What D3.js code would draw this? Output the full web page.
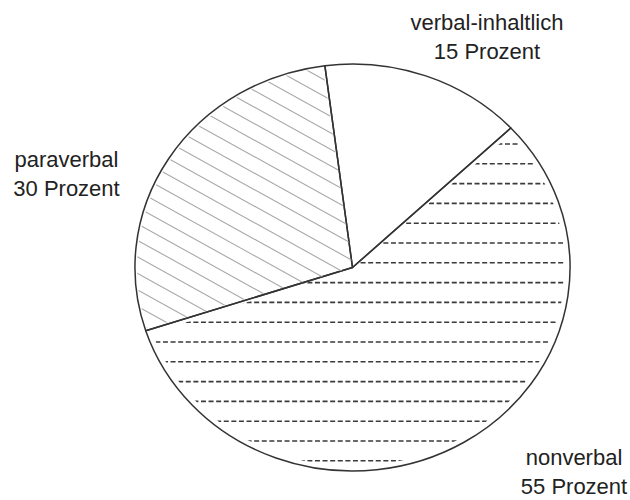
<!DOCTYPE html>
<html>
<head>
<meta charset="utf-8">
<script src="https://cdn.jsdelivr.net/npm/d3@7"></script>
<style>
  html, body { margin: 0; padding: 0; background: #fff; }
  svg { display: block; }
  text { font-family: "Liberation Sans", Arial, sans-serif; fill: #222; }
</style>
</head>
<body>
<svg id="chart" width="630" height="500"></svg>
<script>
// ---- data ----
const categories = ["verbal-inhaltlich", "nonverbal", "paraverbal"];
const values = [15, 57, 28];            // slice shares as drawn
const labelPercents = ["15", "55", "30"]; // percentages as printed
const labelUnit = "Prozent";

// ---- layout ----
const W = 630, H = 500;
const cx = 352.5, cy = 267.5, r = 203.5, sx = 1.069;
const startAngle = -7.3 * Math.PI / 180;

const svg = d3.select("#chart");
const defs = svg.append("defs");

const pie = d3.pie().sort(null).value(d => d)
  .startAngle(startAngle).endAngle(startAngle + 2 * Math.PI);
const arcs = pie(values);
const arc = d3.arc().innerRadius(0).outerRadius(r);
const arcInset = d3.arc().innerRadius(0).outerRadius(r - 5).padAngle(0.045).padRadius(r);
const arcInset2 = d3.arc().innerRadius(0).outerRadius(r - 2).padAngle(0.02).padRadius(r);

const tf = `translate(${cx},${cy}) scale(${sx},1)`;

// clip paths
defs.append("clipPath").attr("id", "clipNon")
  .append("path").attr("transform", tf).attr("d", arcInset(arcs[1]));
defs.append("clipPath").attr("id", "clipPara")
  .append("path").attr("transform", tf).attr("d", arcInset2(arcs[2]));

// slice fills
const g = svg.append("g").attr("transform", tf);
g.selectAll("path.fill").data(arcs).join("path")
  .attr("class", "fill").attr("d", arc).attr("fill", "#fff");

// nonverbal: horizontal dashed lines
const yTop = 144, yStep = 19.8;
const dashYs = d3.range(yTop, cy + r + 1, yStep);
svg.append("g").attr("clip-path", "url(#clipNon)")
  .selectAll("line").data(dashYs).join("line")
  .attr("x1", cx - r * sx - 10).attr("x2", cx + r * sx + 10)
  .attr("y1", d => d).attr("y2", d => d)
  .attr("stroke", "#3a3a3a").attr("stroke-width", 1.6)
  .attr("stroke-dasharray", "5,2.6");

// paraverbal: diagonal hatch (top-left to bottom-right)
const ang = 29 * Math.PI / 180;
const vStep = 16.5;
const slope = Math.tan(ang);
const offs = d3.range(-700, 700, vStep);
svg.append("g").attr("clip-path", "url(#clipPara)")
  .selectAll("line").data(offs).join("line")
  .attr("x1", 0).attr("x2", W)
  .attr("y1", d => cy + d - slope * cx)
  .attr("y2", d => cy + d + slope * (W - cx))
  .attr("stroke", "#a8a8a8").attr("stroke-width", 1.1);

// outlines
g.selectAll("path.edge").data(arcs).join("path")
  .attr("class", "edge").attr("d", arc)
  .attr("fill", "none").attr("stroke", "#333")
  .attr("stroke-width", 1.5).attr("stroke-linejoin", "round")
  .attr("vector-effect", "non-scaling-stroke");

// labels
const labelPos = [
  { x: 487, y: 29.5 },
  { x: 574, y: 464.5 },
  { x: 66.5, y: 166.5 }
];
const lg = svg.append("g");
categories.forEach((c, i) => {
  const t = lg.append("text")
    .attr("text-anchor", "middle")
    .attr("font-size", 22);
  t.append("tspan").attr("x", labelPos[i].x).attr("y", labelPos[i].y).text(c);
  t.append("tspan").attr("x", labelPos[i].x).attr("y", labelPos[i].y + 29)
    .text(labelPercents[i] + " " + labelUnit);
});
</script>
</body>
</html>
